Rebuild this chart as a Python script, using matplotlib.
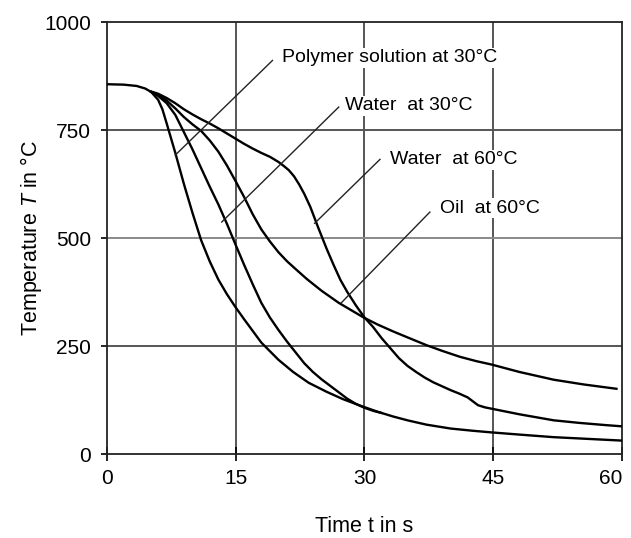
import numpy as np
import matplotlib
matplotlib.use('Agg')
import matplotlib.pyplot as plt

plt.rcParams['font.family'] = ['Liberation Sans', 'DejaVu Sans']
plt.rcParams['mathtext.fontset'] = 'custom'
plt.rcParams['mathtext.rm'] = 'Liberation Sans'
plt.rcParams['mathtext.it'] = 'Liberation Sans:italic'

# curves (time in s, temperature in degC)
polymer_t = [0, 2, 3.5, 4.5, 5.2, 6, 6.5, 7, 8, 9, 10, 11, 12, 13, 14, 15, 16, 17, 18, 20, 21.7,
             23.5, 25.6, 27.5, 29.5, 31.5, 33.3, 35, 37.2, 40, 42.5, 44.8, 48, 52, 56, 60]
polymer_T = [856, 855, 852, 846, 838, 820, 798, 765, 697, 625, 558, 495, 446, 404, 370, 340, 312, 285, 258, 218, 190,
             165, 144, 127, 112, 98, 87, 78, 68, 59, 54, 50, 45, 39, 35, 31]

water30_t = [5.2, 6, 7, 8, 9, 10, 11, 12, 13, 14, 15, 16, 17, 18, 19, 20, 21, 22, 23, 24, 25, 26, 27, 28, 29, 30, 31, 32]
water30_T = [838, 829, 812, 785, 745, 705, 662, 619, 578, 533, 485, 438, 393, 350, 316, 287, 260, 235, 210, 190, 173, 158,
             143, 128, 116, 107, 100, 95]

oil60_t = [5.2, 6, 7, 8, 9, 10, 11, 12, 13, 14, 15, 16, 17, 18, 19, 20, 21, 22, 23.3, 25, 27, 29.9, 31.5, 33.3, 35,
           37.2, 39, 41.1, 43, 44.8, 48, 52, 55.5, 59.3]
oil60_T = [838, 832, 818, 800, 780, 763, 748, 726, 700, 668, 632, 595, 555, 520, 492, 467, 446, 428, 405, 378, 350,
           316, 300, 284, 270, 252, 239, 225, 215, 207, 190, 172, 161, 151]

water60_t = [5.2, 6, 7, 8, 9, 10, 11, 12, 13, 14, 15, 16, 17, 18, 19, 20, 20.6, 21.2, 21.8, 22.4, 23, 23.7, 24.6, 25.6,
             26.4, 27.2, 28, 29, 30, 31, 32, 33, 34, 35, 36, 37, 38, 39, 40, 41, 42, 42.6, 43.2, 44, 45, 46, 48, 50,
             52, 55, 58, 60]
water60_T = [839, 834, 824, 812, 798, 786, 775, 765, 754, 742, 730, 718, 707, 697, 688, 676, 667, 657, 643, 624, 602,
             572, 525, 475, 438, 403, 375, 344, 316, 294, 268, 245, 222, 204, 190, 177, 166, 157, 148, 140, 131, 122,
             113, 108, 104, 100, 92, 85, 78, 72, 67, 64]

labels = ['Polymer solution at 30°C', 'Water  at 30°C', 'Water  at 60°C', 'Oil  at 60°C']
label_xy = [(20.4, 917), (27.7, 806), (33.0, 681), (38.8, 569)]
leader_from = [(19.3, 911), (27.0, 803), (31.8, 682), (37.6, 560)]
leader_to = [(8.0, 692), (13.4, 537), (24.2, 534), (27.3, 350)]

fig = plt.figure(figsize=(6.31, 5.38), dpi=100)
ax = fig.add_axes([0.1688, 0.1561, 0.8177, 0.8030])

# grid
for x in [15, 30, 45]:
    ax.axvline(x, color='#555555', lw=1.4, zorder=1)
for y, c in [(250, '#555555'), (500, '#8a8a8a'), (750, '#555555')]:
    ax.axhline(y, color=c, lw=1.4, zorder=1)

for t, T in [(polymer_t, polymer_T), (water30_t, water30_T), (oil60_t, oil60_T), (water60_t, water60_T)]:
    ax.plot(t, T, color='black', lw=1.7, zorder=3, solid_joinstyle='round')

for lab, xy, p0, p1 in zip(labels, label_xy, leader_from, leader_to):
    ax.plot([p0[0], p1[0]], [p0[1], p1[1]], color='#222222', lw=1.0, zorder=4)
    ax.text(xy[0], xy[1], lab, fontsize=14, ha='left', va='center', zorder=5,
            bbox=dict(facecolor='white', edgecolor='none', pad=1.0))

ax.set_xlim(0, 60)
ax.set_ylim(0, 1000)
ax.set_xticks([0, 15, 30, 45, 60])
ax.set_yticks([0, 250, 500, 750, 1000])
ax.tick_params(axis='x', direction='inout', length=10, width=1.2, labelsize=15, pad=6)
ax.tick_params(axis='y', direction='out', length=4, width=1.2, labelsize=15, pad=7)
xlabs = ax.get_xticklabels()
xlabs[-1].set_horizontalalignment('right')
xlabs[-1].set_x(60)
for s in ax.spines.values():
    s.set_linewidth(1.3)
    s.set_color('#222222')

ax.set_xlabel('Time t in s', fontsize=15.5, labelpad=20)
ax.set_ylabel('Temperature $T$ in °C', fontsize=15.5, labelpad=0)

fig.savefig('out.png', dpi=100)
